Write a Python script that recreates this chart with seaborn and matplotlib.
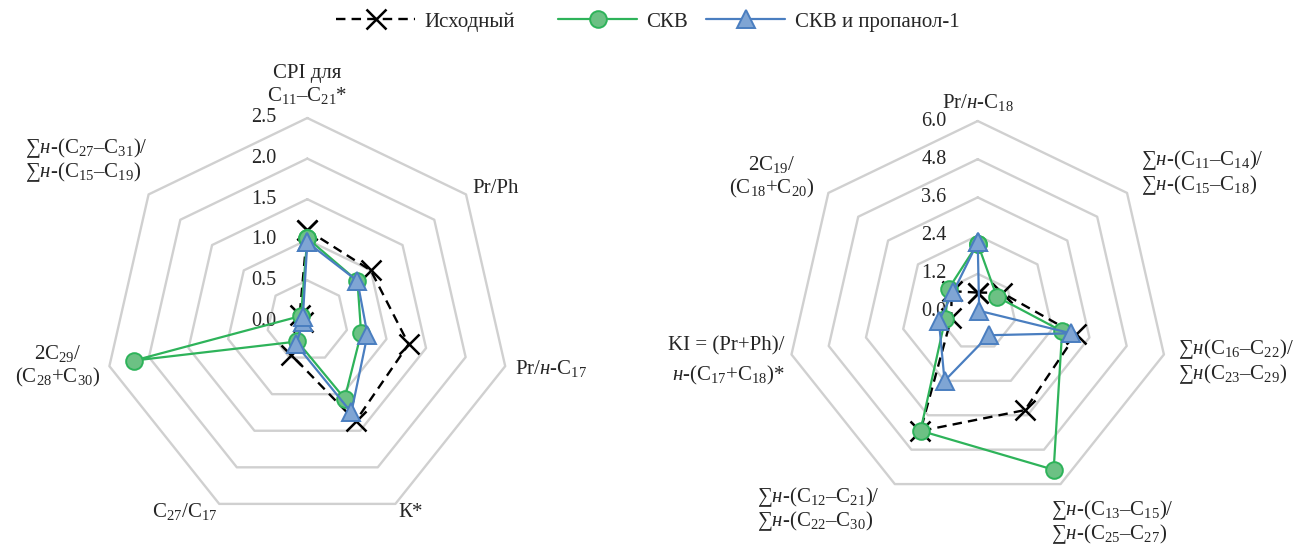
import numpy as np
import pandas as pd
import matplotlib
matplotlib.use("Agg")
import matplotlib.pyplot as plt
import seaborn as sns

# ---- data -------------------------------------------------------------
series_names = ["Исходный", "СКВ", "СКВ и пропанол-1"]

left_labels = [
    "CPI для\nC$_{11}$–C$_{21}$*",
    "Pr/Ph",
    "Pr/$\\mathit{н}$-C$_{17}$",
    "К*",
    "C$_{27}$/C$_{17}$",
    "2C$_{29}$/\n(C$_{28}$+C$_{30}$)",
    "∑$\\mathit{н}$-(C$_{27}$–C$_{31}$)/\n∑$\\mathit{н}$-(C$_{15}$–C$_{19}$)",
]
left_ticks = [0.0, 0.5, 1.0, 1.5, 2.0, 2.5]
left_initial = [1.12, 1.00, 1.28, 1.37, 0.46, 0.05, 0.12]
left_skv = [1.02, 0.79, 0.68, 1.06, 0.28, 2.19, 0.10]
left_skv_prop = [0.97, 0.79, 0.76, 1.25, 0.32, 0.05, 0.07]

right_labels = [
    "Pr/$\\mathit{н}$-C$_{18}$",
    "∑$\\mathit{н}$-(C$_{11}$–C$_{14}$)/\n∑$\\mathit{н}$-(C$_{15}$–C$_{18}$)",
    "∑$\\mathit{н}$(C$_{16}$–C$_{22}$)/\n∑$\\mathit{н}$(C$_{23}$–C$_{29}$)",
    "∑$\\mathit{н}$-(C$_{13}$–C$_{15}$)/\n∑$\\mathit{н}$-(C$_{25}$–C$_{27}$)",
    "∑$\\mathit{н}$-(C$_{12}$–C$_{21}$)/\n∑$\\mathit{н}$-(C$_{22}$–C$_{30}$)",
    "KI = (Pr+Ph)/\n$\\mathit{н}$-(C$_{17}$+C$_{18}$)*",
    "2C$_{19}$/\n(C$_{18}$+C$_{20}$)",
]
right_ticks = [0.0, 1.2, 2.4, 3.6, 4.8, 6.0]
right_initial = [0.61, 0.97, 3.17, 3.42, 4.15, 0.85, 1.05]
right_skv = [2.15, 0.77, 2.72, 5.50, 4.14, 1.05, 1.17]
right_skv_prop = [2.19, 0.06, 3.01, 0.81, 2.40, 1.25, 0.99]

# ---- style ------------------------------------------------------------
sns.set_theme(style="white")
plt.rcParams["font.family"] = ["Liberation Serif", "DejaVu Serif"]
plt.rcParams["mathtext.fontset"] = "custom"
plt.rcParams["mathtext.rm"] = "Liberation Serif"
plt.rcParams["mathtext.it"] = "Liberation Serif:italic"
plt.rcParams["mathtext.bf"] = "Liberation Serif:bold"

FS = 15
TICK_FS = 14.5
GRID_COLOR = "#d0d0d0"
series_styles = {
    "Исходный": dict(color="black", linestyle=(0, (4, 2.6)), marker="x",
                     markersize=14, markeredgewidth=1.8,
                     markeredgecolor="black", linewidth=1.7),
    "СКВ": dict(color="#2eb35a", marker="o", markersize=12,
                markerfacecolor="#6cc184", markeredgecolor="#2eb35a",
                markeredgewidth=1.4, linewidth=1.6),
    "СКВ и пропанол-1": dict(color="#4a7ec0", marker="^", markersize=13,
                             markerfacecolor="#7fa5d4",
                             markeredgecolor="#4a7ec0",
                             markeredgewidth=1.4, linewidth=1.6),
}

W, H = 1295, 548
fig = plt.figure(figsize=(W / 100, H / 100), dpi=100)


def radar(center, radius, labels, ticks, series, label_specs):
    cx, cy = center
    ax = fig.add_axes([(cx - radius) / W, 1 - (cy + radius) / H,
                       2 * radius / W, 2 * radius / H], projection="polar")
    ax.set_theta_offset(np.pi / 2)
    ax.set_theta_direction(-1)
    ax.set_ylim(0, ticks[-1])
    ax.grid(False)
    ax.spines["polar"].set_visible(False)
    ax.set_xticks([])
    ax.set_yticks([])
    ax.patch.set_alpha(0)

    n = len(labels)
    theta = np.linspace(0, 2 * np.pi, n, endpoint=False)
    theta_closed = np.append(theta, 2 * np.pi)

    # heptagonal rings
    for t in ticks[1:]:
        ax.plot(theta_closed, np.full(n + 1, t), color=GRID_COLOR,
                lw=1.7, zorder=1, clip_on=False)

    # ring values along the top spoke
    for t in ticks:
        ax.annotate(f"{t:.1f}", xy=(0, t), xytext=(-31, 0),
                    textcoords="offset pixels", ha="right", va="center",
                    fontsize=TICK_FS, zorder=2)

    handles = []
    for name, values in zip(series_names, series):
        df = pd.DataFrame({"theta": theta_closed,
                           "value": np.append(values, values[0])})
        sns.lineplot(data=df, x="theta", y="value", sort=False,
                     errorbar=None, ax=ax, legend=False, clip_on=False,
                     zorder=3, **series_styles[name])
        handles.append(ax.lines[-1])
    ax.set_xlabel("")
    ax.set_ylabel("")

    for th, lab, (dx, dy, ha, va, ma, ls) in zip(theta, labels, label_specs):
        ax.annotate(lab, xy=(th, ticks[-1]), xytext=(dx, dy),
                    textcoords="offset pixels", ha=ha, va=va,
                    multialignment=ma, fontsize=FS, linespacing=ls)
    return ax, handles


left_specs = [
    (0, 12, "center", "bottom", "center", 1.1),
    (6, 6, "left", "center", "left", 1.1),
    (10, -2, "left", "center", "left", 1.1),
    (3, -9, "left", "center", "left", 1.1),
    (-2, -8, "right", "center", "left", 1.1),
    (-9, 0, "right", "center", "center", 1.15),
    (-1, 10, "right", "bottom", "left", 1.05),
]
right_specs = [
    (0, 8, "center", "bottom", "center", 1.1),
    (14, -4, "left", "bottom", "left", 1.05),
    (14, -7, "left", "center", "left", 1.05),
    (-10, -14, "left", "top", "left", 1.05),
    (-15, -1, "right", "top", "left", 1.05),
    (-7, -7, "right", "center", "right", 1.5),
    (-14, -7, "right", "bottom", "center", 1.1),
]

ax_l, handles = radar((307.3, 321.0), 203, left_labels, left_ticks,
                      [left_initial, left_skv, left_skv_prop], left_specs)
ax_r, _ = radar((977.7, 312.0), 191, right_labels, right_ticks,
                [right_initial, right_skv, right_skv_prop], right_specs)

# legend entries, each anchored at the left edge of its line sample
legend_x = [336, 558, 706]
for h, name, x in zip(handles, series_names, legend_x):
    fig.legend([h], [name], loc="center left",
               bbox_to_anchor=(x / W, 1 - 22 / H), frameon=False,
               fontsize=FS, handlelength=3.8, handletextpad=0.45,
               borderpad=0, borderaxespad=0, numpoints=1)

fig.savefig("out.png", dpi=100)
